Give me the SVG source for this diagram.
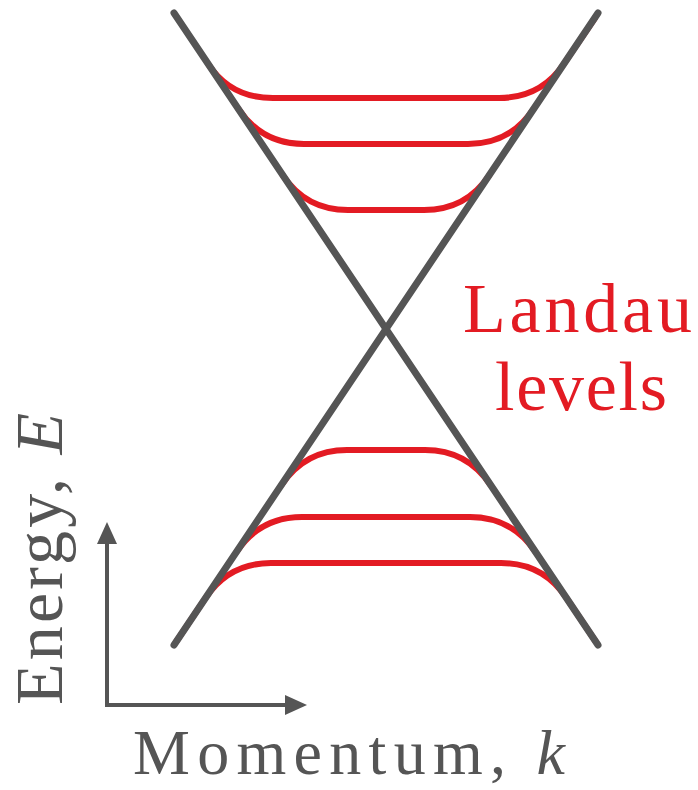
<svg xmlns="http://www.w3.org/2000/svg" width="698" height="790" viewBox="0 0 698 790">
  <style>
    .level { fill: none; stroke: #e31b23; stroke-width: 6; stroke-linecap: round; stroke-linejoin: round; }
    .band { fill: none; stroke: #555555; stroke-width: 7; stroke-linecap: round; }
    .axis { fill: none; stroke: #555555; stroke-width: 4; }
    .lbl { fill: #555555; font-family: "Liberation Serif", "DejaVu Serif", serif; }
    .red { fill: #e31b23; font-family: "Liberation Serif", "DejaVu Serif", serif; }
  </style>
  <defs>
    <marker id="arrow" viewBox="0 0 22 20" refX="16" refY="10" markerWidth="22" markerHeight="20" markerUnits="userSpaceOnUse" orient="auto">
      <path d="M0 0 L22 10 L0 20 Z" fill="#555555"/>
    </marker>
  </defs>
  <rect width="698" height="790" fill="#ffffff"/>

  <g id="landau-levels">
    <path class="level" d="M 208.7 64.8 Q 231 98 273 98 L 499 98 Q 541 98 564.4 63.1 L 595 18"/>
    <path class="level" d="M 238.6 109.1 Q 262 144 304 144 L 468 144 Q 510 144 533.4 109.1"/>
    <path class="level" d="M 282.6 175.1 Q 306 210 348 210 L 424 210 Q 466 210 489.4 175.1"/>
    <path class="level" d="M 281.6 484.9 Q 305 450 347 450 L 425 450 Q 467 450 490.4 484.9"/>
    <path class="level" d="M 236.6 551.9 Q 260 517 302 517 L 470 517 Q 512 517 535.4 551.9"/>
    <path class="level" d="M 176 642 L 205.6 597.9 Q 229 563 271 563 L 501 563 Q 543 563 566.4 597.9 L 596 642"/>
  </g>

  <g id="dirac-cone">
    <line class="band" x1="174" y1="13" x2="598" y2="645"/>
    <line class="band" x1="598" y1="13" x2="174" y2="645"/>
  </g>

  <g id="axes">
    <line class="axis" x1="107" y1="707" x2="107" y2="528" marker-end="url(#arrow)"/>
    <line class="axis" x1="105" y1="705" x2="301" y2="705" marker-end="url(#arrow)"/>
  </g>

  <g id="energy-label">
    <text class="lbl" transform="translate(62,705) rotate(-90)" font-size="68" textLength="292" lengthAdjust="spacing">Energy, <tspan font-style="italic">E</tspan></text>
  </g>
  <g id="momentum-label">
    <text class="lbl" x="133" y="774" font-size="64" textLength="432" lengthAdjust="spacing">Momentum, <tspan font-style="italic">k</tspan></text>
  </g>
  <g id="landau-label">
    <text class="red" x="463" y="332" font-size="70" textLength="229" lengthAdjust="spacing">Landau</text>
    <text class="red" x="495" y="410" font-size="70" textLength="172" lengthAdjust="spacing">levels</text>
  </g>
</svg>
